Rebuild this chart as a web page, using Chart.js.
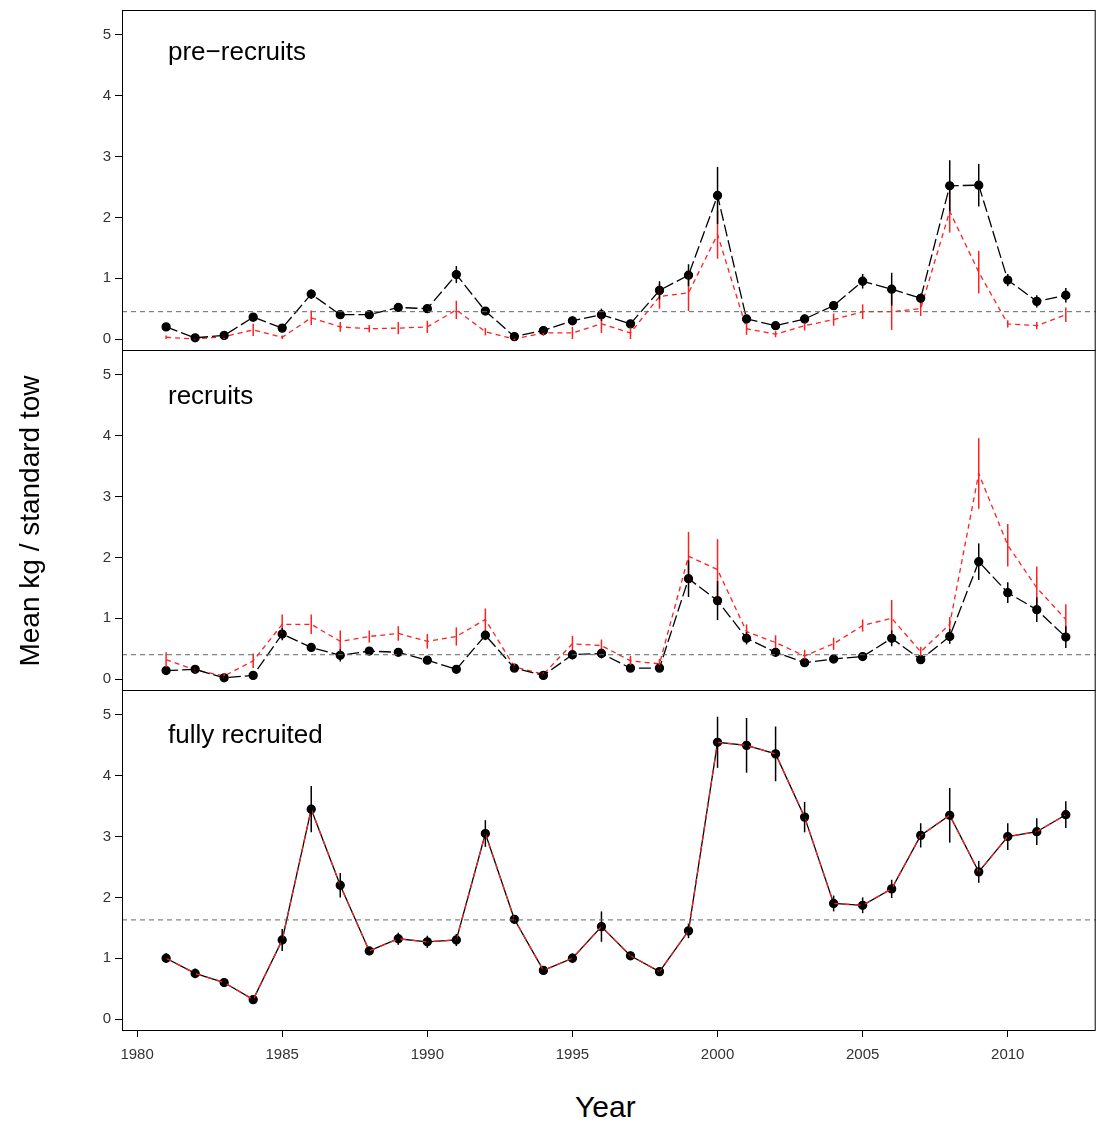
<!DOCTYPE html>
<html>
<head>
<meta charset="utf-8">
<script src="https://cdn.jsdelivr.net/npm/chart.js@4.4.0/dist/chart.umd.min.js"></script>
<style>
body{margin:0;background:#fff;width:1096px;height:1122px;position:relative;overflow:hidden;font-family:"Liberation Sans",Arial,sans-serif}
canvas{position:absolute;left:0}
.lab{position:absolute;font-size:27px;color:#000}
.pan{position:absolute;left:168px;font-size:26px;color:#000}
</style>
</head>
<body>
<canvas id="c1"></canvas>
<canvas id="c2"></canvas>
<canvas id="c3"></canvas>
<div class="pan" style="top:36px">pre&minus;recruits</div>
<div class="pan" style="top:380px">recruits</div>
<div class="pan" style="top:719px">fully recruited</div>
<div class="lab" style="left:575px;top:1090px;font-size:30px">Year</div>
<div class="lab" style="left:-120px;top:505px;width:300px;text-align:center;transform:rotate(-90deg);font-size:28px;white-space:nowrap">Mean kg / standard tow</div>
<script>
var years = [];
for (var y = 1981; y <= 2012; y++) years.push(y);

var preBlack = [0.2,0.02,0.06,0.36,0.18,0.74,0.4,0.4,0.52,0.5,1.06,0.46,0.04,0.14,0.3,0.4,0.25,0.8,1.05,2.36,0.33,0.22,0.33,0.55,0.95,0.82,0.67,2.52,2.53,0.97,0.62,0.72];
var preBlackErr = [0.06,0.03,0.04,0.07,0.05,0.08,0.06,0.05,0.07,0.07,0.14,0.06,0.03,0.04,0.07,0.1,0.06,0.15,0.18,0.47,0.07,0.05,0.07,0.07,0.12,0.27,0.08,0.42,0.35,0.1,0.1,0.12];
var preRed = [0.03,0.0,0.04,0.15,0.03,0.35,0.2,0.17,0.18,0.2,0.48,0.12,0.0,0.1,0.1,0.25,0.1,0.7,0.76,1.72,0.17,0.08,0.22,0.32,0.45,0.45,0.5,2.1,1.1,0.25,0.22,0.4];
var preRedErr = [0.03,0.02,0.04,0.1,0.03,0.12,0.08,0.06,0.1,0.1,0.15,0.06,0.02,0.05,0.1,0.15,0.1,0.2,0.3,0.4,0.1,0.05,0.08,0.1,0.12,0.3,0.12,0.35,0.35,0.06,0.06,0.12];
var recBlack = [0.14,0.16,0.02,0.06,0.74,0.52,0.39,0.46,0.44,0.31,0.16,0.72,0.18,0.06,0.4,0.42,0.18,0.18,1.65,1.29,0.67,0.44,0.27,0.33,0.37,0.67,0.32,0.7,1.93,1.42,1.14,0.69];
var recBlackErr = [0.04,0.04,0.03,0.03,0.1,0.06,0.1,0.05,0.05,0.05,0.04,0.08,0.04,0.03,0.08,0.08,0.05,0.05,0.3,0.32,0.1,0.07,0.06,0.05,0.05,0.13,0.05,0.12,0.3,0.17,0.2,0.18];
var recRed = [0.32,0.15,0.05,0.3,0.9,0.9,0.62,0.7,0.75,0.62,0.7,0.98,0.2,0.08,0.58,0.55,0.3,0.25,2.02,1.8,0.78,0.6,0.38,0.58,0.88,1.0,0.45,0.9,3.38,2.2,1.5,0.98];
var recRedErr = [0.12,0.04,0.04,0.12,0.16,0.16,0.18,0.1,0.12,0.12,0.15,0.18,0.05,0.03,0.13,0.1,0.08,0.08,0.4,0.5,0.12,0.12,0.1,0.1,0.1,0.3,0.08,0.12,0.58,0.35,0.35,0.25];
var fullVal = [1.0,0.75,0.6,0.32,1.3,3.45,2.2,1.12,1.32,1.27,1.3,3.05,1.64,0.8,1.0,1.52,1.04,0.78,1.45,4.55,4.5,4.36,3.32,1.9,1.87,2.14,3.02,3.35,2.42,3.0,3.08,3.36];
var fullErr = [0.08,0.08,0.05,0.04,0.18,0.38,0.2,0.07,0.1,0.1,0.1,0.22,0.07,0.05,0.08,0.25,0.07,0.05,0.12,0.42,0.45,0.45,0.25,0.13,0.13,0.15,0.2,0.45,0.18,0.22,0.22,0.22];
var refLines = [0.45, 0.4, 1.63];
var yTicks = [0,1,2,3,4,5];
var xTicks = [1980,1985,1990,1995,2000,2005,2010];

var errPlugin = {
  id: 'err',
  afterDatasetsDraw: function(chart){
    var ctx = chart.ctx, xs = chart.scales.x, ys = chart.scales.y;
    ctx.save();
    chart.data.datasets.forEach(function(ds){
      if (!ds.err) return;
      ctx.strokeStyle = ds.errColor; ctx.lineWidth = 1.5; ctx.setLineDash([]);
      ds.data.forEach(function(p, i){
        var px = xs.getPixelForValue(p.x);
        ctx.beginPath();
        ctx.moveTo(px, ys.getPixelForValue(p.y - ds.err[i]));
        ctx.lineTo(px, ys.getPixelForValue(p.y + ds.err[i]));
        ctx.stroke();
      });
    });
    var a = chart.chartArea;
    var ry = ys.getPixelForValue(chart.options.refLine);
    ctx.strokeStyle = '#666'; ctx.lineWidth = 1; ctx.setLineDash([5,4]);
    ctx.beginPath(); ctx.moveTo(a.left, ry); ctx.lineTo(a.right, ry); ctx.stroke();
    ctx.setLineDash([]); ctx.strokeStyle = '#000'; ctx.lineWidth = 1;
    ctx.strokeRect(a.left + 0.5, a.top + 0.5, a.right - a.left - 1, a.bottom - a.top);
    ctx.restore();
  }
};

function pts(v){ return years.map(function(y, i){ return {x: y, y: v[i]}; }); }

function build(cv, W, h, showX, series, ref){
  cv.width = W; cv.height = h;
  cv.style.width = W + 'px'; cv.style.height = h + 'px';
  var ds = series.map(function(s){
    return {
      data: pts(s.v), err: s.e, errColor: s.c, borderColor: s.c, borderWidth: 1.3,
      borderDash: s.dash, pointRadius: s.pt ? 4 : 0, pointBackgroundColor: '#000',
      pointBorderColor: '#000', tension: 0, order: s.order
    };
  });
  return new Chart(cv, {
    type: 'line',
    data: {datasets: ds},
    plugins: [errPlugin],
    options: {
      responsive: false, animation: false, refLine: ref,
      layout: {padding: 0},
      plugins: {legend: {display: false}, tooltip: {enabled: false}},
      scales: {
        x: {
          type: 'linear', min: 1979.48, max: 2013.03, display: showX,
          afterBuildTicks: function(s){ s.ticks = xTicks.map(function(v){ return {value: v}; }); },
          afterFit: function(s){ if (showX) s.height = 40; },
          grid: {drawOnChartArea: false, tickLength: 7, color: '#000'},
          border: {display: false},
          ticks: {color: '#333', font: {size: 15, family: 'Liberation Sans'}, maxRotation: 0, padding: 9,
            callback: function(v){ return String(v); }}
        },
        y: {
          min: -0.18, max: 5.41,
          afterBuildTicks: function(s){ s.ticks = yTicks.map(function(v){ return {value: v}; }); },
          afterFit: function(s){ s.width = 122; },
          grid: {drawOnChartArea: false, tickLength: 7, color: '#000'},
          border: {display: false},
          ticks: {color: '#333', font: {size: 15, family: 'Liberation Sans'}, padding: 4}
        }
      }
    }
  });
}

function makePanel(id, top, showX, series, ref){
  var cv = document.getElementById(id);
  var W = 1101;
  var h = 340 + (showX ? 40 : 0);
  var chart = build(cv, W, h, showX, series, ref);
  var a = chart.chartArea;
  var nh = 340 + (h - (a.bottom - a.top));
  chart.destroy();
  chart = build(cv, W, nh, showX, series, ref);
  cv.style.top = (top - chart.chartArea.top) + 'px';
}

makePanel('c1', 10, false, [
  {v: preRed, e: preRedErr, c: '#ff2020', dash: [5,4], pt: false, order: 2},
  {v: preBlack, e: preBlackErr, c: '#000', dash: [12,4], pt: true, order: 1}
], refLines[0]);
makePanel('c2', 350, false, [
  {v: recRed, e: recRedErr, c: '#ff2020', dash: [5,4], pt: false, order: 2},
  {v: recBlack, e: recBlackErr, c: '#000', dash: [12,4], pt: true, order: 1}
], refLines[1]);
makePanel('c3', 690, true, [
  {v: fullVal, e: fullErr, c: '#000', dash: [], pt: true, order: 2},
  {v: fullVal, e: null, c: '#ff2020', dash: [6,5], pt: false, order: 1}
], refLines[2]);
</script>
</body>
</html>
